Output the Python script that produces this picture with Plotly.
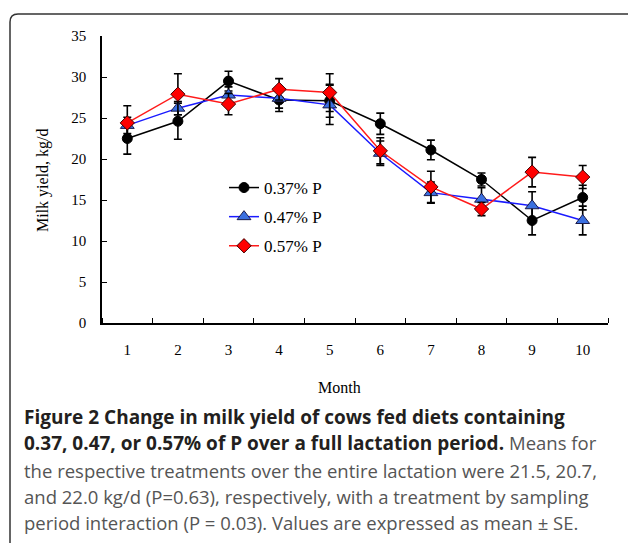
import plotly.graph_objects as go

months = [1, 2, 3, 4, 5, 6, 7, 8, 9, 10]
y_037 = [22.5, 24.6, 29.5, 27.2, 27.1, 24.3, 21.1, 17.5, 12.5, 15.3]
e_037 = [1.9, 2.2, 1.2, 1.4, 2.0, 1.3, 1.2, 0.8, 1.75, 1.5]
y_047 = [24.1, 26.2, 27.8, 27.4, 26.6, 20.7, 15.9, 15.1, 14.3, 12.5]
e_047 = [1.0, 0.8, 1.0, 1.2, 2.4, 1.5, 1.3, 1.4, 1.7, 1.75]
y_057 = [24.4, 27.9, 26.7, 28.5, 28.1, 21.0, 16.6, 13.9, 18.4, 17.8]
e_057 = [2.1, 2.5, 1.3, 1.3, 2.3, 1.6, 1.9, 0.8, 1.8, 1.4]
names = ["0.37% P", "0.47% P", "0.57% P"]
x_tick_labels = [str(m) for m in months]
y_ticks = [0, 5, 10, 15, 20, 25, 30, 35]

W, H = 628, 543
ML, MR, MT, MB = 102, 20, 36, 220
PW, PH = W - ML - MR, H - MT - MB

def px2x(px):
    return (px - ML) / PW

def py2y(py):
    return (H - MB - py) / PH

serif = "Liberation Serif, Times New Roman, serif"
sans = "Open Sans, sans-serif"

fig = go.Figure()
styles = [
    dict(line=dict(color="black", width=1.5),
         marker=dict(symbol="circle", size=10, color="black", line=dict(color="black", width=1))),
    dict(line=dict(color="#1a1aff", width=1.5),
         marker=dict(symbol="triangle-up", size=12, color="#3a6fe0", line=dict(color="#1a1a4a", width=1))),
    dict(line=dict(color="#ff1a1a", width=1.5),
         marker=dict(symbol="diamond", size=11, color="#ff0000", line=dict(color="#400000", width=1))),
]
for i, (ys, es) in enumerate([(y_037, e_037), (y_047, e_047), (y_057, e_057)]):
    fig.add_trace(go.Scatter(
        x=months, y=ys, name=names[i], mode="lines+markers",
        error_y=dict(type="data", array=es, visible=True, color="black", thickness=1.6, width=4),
        legendgroup=str(i), **styles[i]))

fig.update_layout(
    width=W, height=H,
    margin=dict(l=ML, r=MR, t=MT, b=MB, autoexpand=False),
    paper_bgcolor="white", plot_bgcolor="white",
    showlegend=True,
    legend=dict(x=px2x(224), y=py2y(170), xanchor="left", yanchor="top",
                font=dict(family=serif, size=17, color="black"),
                bgcolor="rgba(0,0,0,0)", tracegroupgap=4, itemwidth=30),
    font=dict(family=serif, color="black"),
)
fig.update_xaxes(
    range=[0.5, 10.5], tickvals=months, ticktext=x_tick_labels,
    ticks="", showgrid=False, zeroline=False, automargin=False,
    showline=True, linecolor="black", linewidth=1.5,
    tickfont=dict(family=serif, size=15, color="black"),
    ticklabelstandoff=12,
    minor=dict(ticks="inside", tick0=0.5, dtick=1, ticklen=5, tickcolor="black", tickwidth=1, showgrid=False),
)
fig.update_yaxes(
    range=[0, 35], tickvals=y_ticks, ticks="inside", ticklen=5, tickcolor="black",
    showgrid=False, zeroline=False, automargin=False,
    showline=True, linecolor="black", linewidth=1.5,
    tickfont=dict(family=serif, size=15, color="black"),
    ticklabelstandoff=11,
)

# Axis titles
fig.add_annotation(text="Month", x=px2x(339), y=py2y(387), xref="paper", yref="paper",
                   xanchor="center", yanchor="middle", showarrow=False,
                   font=dict(family=serif, size=16, color="black"))
fig.add_annotation(text="Milk yield, kg/d", x=px2x(43), y=py2y(180), xref="paper", yref="paper",
                   xanchor="center", yanchor="middle", showarrow=False, textangle=-90,
                   font=dict(family=serif, size=16, color="black"))

# Rounded frame around the figure
x0, y0, r = 10, 14, 8
path = (f"M {px2x(x0)},{py2y(H + 30)} L {px2x(x0)},{py2y(y0 + r)} "
        f"Q {px2x(x0)},{py2y(y0)} {px2x(x0 + r)},{py2y(y0)} L {px2x(W + 30)},{py2y(y0)}")
fig.add_shape(type="path", path=path, xref="paper", yref="paper",
              line=dict(color="#333333", width=1.5), layer="above")

cap_dark = "#231f20"
cap_gray = "#555555"
g = f"<span style='color:{cap_gray};font-size:18.5px'>"
caption = [
    "<b>Figure 2 Change in milk yield of cows fed diets containing</b>",
    "<b>0.37, 0.47, or 0.57% of P over a full lactation period.</b> " + g + "Means for</span>",
    g + "the respective treatments over the entire lactation were 21.5, 20.7,</span>",
    g + "and 22.0 kg/d (P=0.63), respectively, with a treatment by sampling</span>",
    g + "period interaction (P = 0.03). Values are expressed as mean ± SE.</span>",
]
cap_y = [417, 443, 470, 496, 522]
for txt, yy in zip(caption, cap_y):
    fig.add_annotation(text=txt, x=px2x(22), y=py2y(yy), xref="paper", yref="paper",
                       xanchor="left", yanchor="middle", showarrow=False,
                       font=dict(family=sans, size=19, color=cap_dark))

fig.write_html("out.html", config={"displayModeBar": False},
               post_script="document.body.style.margin='0';document.body.style.overflow='hidden';")
